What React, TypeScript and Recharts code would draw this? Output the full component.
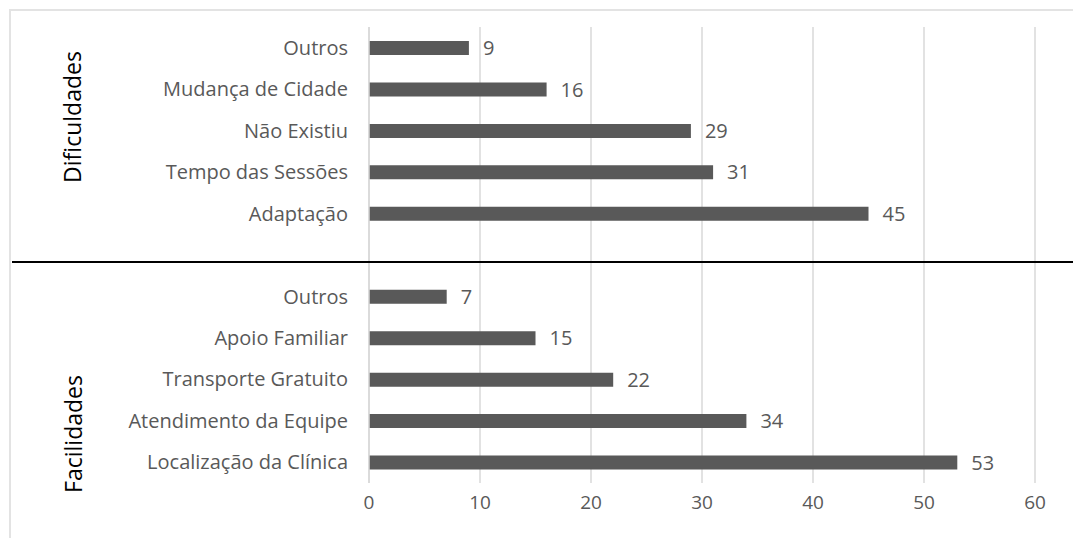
import React from 'react'
import { BarChart, Bar, XAxis, YAxis, CartesianGrid, LabelList } from 'recharts'

const CATEGORIAS = ['Outros','Mudança de Cidade','Não Existiu','Tempo das Sessões','Adaptação','','Outros','Apoio Familiar','Transporte Gratuito','Atendimento da Equipe','Localização da Clínica']
const VALORES = [9,16,29,31,45,null,7,15,22,34,53]
const TICKS_X = [0,10,20,30,40,50,60]

const CINZA='#595959', GRADE='#d9d9d9', FONTE='"Open Sans", sans-serif'

const data = CATEGORIAS.map((c,i)=>({ id:i, nome:c, valor:VALORES[i] }))

export default function App() {
  return (
    <div style={{position:'fixed',left:0,top:0,width:1073,height:538,overflow:'hidden',background:'#fff',fontFamily:FONTE}}>
      {/* moldura */}
      <div style={{position:'absolute',left:9,top:9,width:1200,height:700,border:'2px solid #e3e3e3'}}/>
      <BarChart width={1073} height={538} data={data} layout="vertical" margin={{top:27,right:38,bottom:25,left:0}} style={{position:'absolute',left:0,top:0}}>
        <CartesianGrid horizontal={false} stroke={GRADE} strokeWidth={1.5}/>
        <XAxis type="number" domain={[0,60]} ticks={TICKS_X} height={30} axisLine={false} tickLine={false} tickMargin={7}
          tick={{fontSize:19,fill:CINZA,fontFamily:FONTE}}/>
        <YAxis type="category" dataKey="id" width={369} interval={0} tickFormatter={(i:any)=>CATEGORIAS[i]}
          axisLine={{stroke:GRADE,strokeWidth:1.5}} tickLine={false} tickSize={0} tickMargin={21}
          tick={{fontSize:20,fill:CINZA,fontFamily:FONTE}}/>
        <Bar dataKey="valor" fill={CINZA} barSize={14} isAnimationActive={false}>
          <LabelList dataKey="valor" position="right" offset={14} fill={CINZA} fontSize={20} fontFamily={FONTE}/>
        </Bar>
      </BarChart>
      {/* separador entre grupos */}
      <div style={{position:'absolute',left:12,top:261,width:1061,height:2,background:'#000'}}/>
      <div style={{position:'absolute',left:72,top:117,transform:'translate(-50%,-50%) rotate(-90deg)',fontSize:23,color:'#000',whiteSpace:'nowrap'}}>Dificuldades</div>
      <div style={{position:'absolute',left:73,top:434,transform:'translate(-50%,-50%) rotate(-90deg)',fontSize:23,color:'#000',whiteSpace:'nowrap'}}>Facilidades</div>
    </div>
  )
}
